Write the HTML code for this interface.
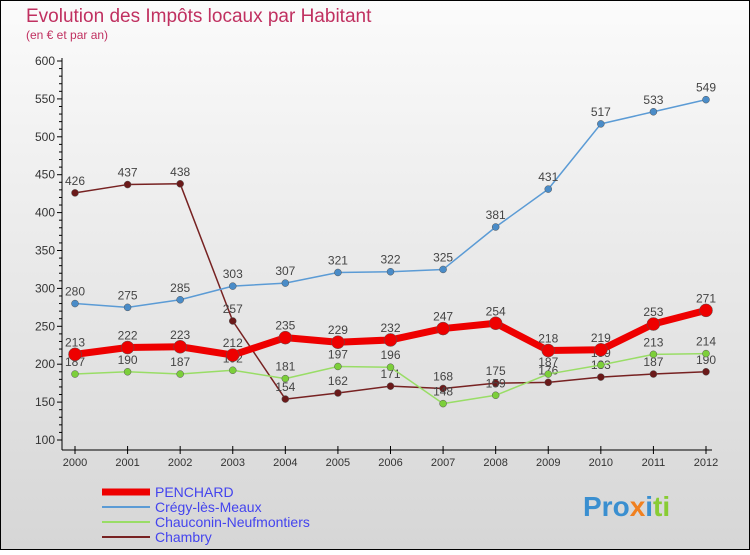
<!DOCTYPE html>
<html><head><meta charset="utf-8"><style>
body{margin:0;width:750px;height:550px;overflow:hidden;font-family:"Liberation Sans",sans-serif}
</style></head><body>
<svg width="750" height="550" xmlns="http://www.w3.org/2000/svg">
<defs><linearGradient id="bg" x1="0" y1="0" x2="0" y2="1"><stop offset="0" stop-color="#fbfbfb"/><stop offset="1" stop-color="#d6d6d6"/></linearGradient></defs>
<rect x="0.5" y="0.5" width="749" height="549" fill="url(#bg)" stroke="#000"/>
<text x="26" y="22" font-size="19" fill="#c03060">Evolution des Impôts locaux par Habitant</text>
<text x="26" y="39" font-size="12" fill="#c03060">(en € et par an)</text>
<g id="axes"></g><g id="series"></g>
<g font-size="14">
<line x1="102" y1="492" x2="150" y2="492" stroke="#ee0000" stroke-width="7"/>
<text x="155" y="497" fill="#4444ee">PENCHARD</text>
<line x1="102" y1="507" x2="150" y2="507" stroke="#5b9bd5" stroke-width="2"/>
<text x="155" y="512" fill="#4444ee">Crégy-lès-Meaux</text>
<line x1="102" y1="522" x2="150" y2="522" stroke="#99dd66" stroke-width="2"/>
<text x="155" y="527" fill="#4444ee">Chauconin-Neufmontiers</text>
<line x1="102" y1="537" x2="150" y2="537" stroke="#772222" stroke-width="2"/>
<text x="155" y="542" fill="#4444ee">Chambry</text>
</g>
<text x="583" y="516" font-size="28" font-weight="bold" fill="#3a8fd0">Pro<tspan fill="#f08020">x</tspan><tspan fill="#3a8fd0">i</tspan><tspan fill="#88cc33">ti</tspan></text>
</svg>
<script>
const years=[2000,2001,2002,2003,2004,2005,2006,2007,2008,2009,2010,2011,2012];
const penchard=[213,222,223,212,235,229,232,247,254,218,219,253,271];
const cregy=[280,275,285,303,307,321,322,325,381,431,517,533,549];
const chauconin=[187,190,187,192,181,197,196,148,159,187,199,213,214];
const chambry=[426,437,438,257,154,162,171,168,175,176,183,187,190];
const yTicks=[100,150,200,250,300,350,400,450,500,550,600];
const NS="http://www.w3.org/2000/svg";
const X=i=>75+i*(706-75)/(years.length-1);
const Y=v=>440-(v-100)*(440-61)/500;
function mk(tag,attrs,parent){const e=document.createElementNS(NS,tag);for(const k in attrs)e.setAttribute(k,attrs[k]);parent.appendChild(e);return e;}
const ax=document.getElementById('axes'),sg=document.getElementById('series');
let a=mk('line',{x1:62,y1:58,x2:62,y2:450,stroke:'#000'},ax);


a=mk('line',{x1:62,y1:450,x2:712,y2:450,stroke:'#000'},ax);


for(let v=100;v<=600;v+=10){mk('line',{x1:v%50?59:57,y1:Y(v),x2:62,y2:Y(v),stroke:'#000'},ax);}
yTicks.forEach(v=>{const t=mk('text',{x:55,y:Y(v)+4,'font-size':12,fill:'#333','text-anchor':'end'},ax);t.textContent=v;

});
years.forEach((yr,i)=>{mk('line',{x1:X(i),y1:446,x2:X(i),y2:454,stroke:'#000'},ax);
const t=mk('text',{x:X(i),y:466,'font-size':11,fill:'#333','text-anchor':'middle'},ax);t.textContent=yr;

});
function series(name,data,color,w,r,dot){
const g=mk('g',{},sg);


mk('polyline',{points:data.map((v,i)=>X(i)+','+Y(v)).join(' '),fill:'none',stroke:color,'stroke-width':w,'stroke-linejoin':'round'},g);
data.forEach((v,i)=>{const c=mk('circle',{cx:X(i),cy:Y(v),r:r,fill:dot,stroke:'#555','stroke-width':0.5},g);


const t=mk('text',{x:X(i),y:Y(v)-8,'font-size':12,fill:'#444','text-anchor':'middle'},g);t.textContent=v;

});}
series('chambry',chambry,'#772222',1.5,3.5,'#6b1a1a');
series('chauconin',chauconin,'#99dd66',1.5,3.5,'#7ccf3a');
series('cregy',cregy,'#5b9bd5',1.5,3.5,'#4a8cc8');
series('penchard',penchard,'#ee0000',7,6.5,'#ee0000');
</script>
</body></html>
